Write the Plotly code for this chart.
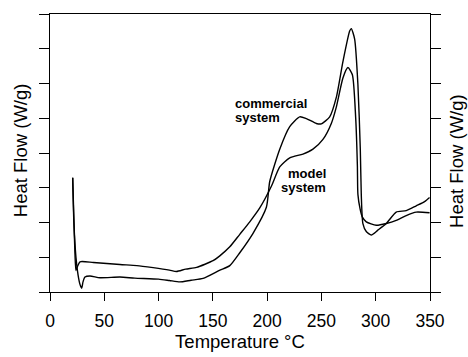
import plotly.graph_objects as go

# Commercial system (lower baseline, steep rise, shoulder ~230 °C, tall peak ~277 °C)
comm_T = [20.9, 22.0, 23.9, 25.8, 27.6, 29.2, 30.4, 32.2, 36.8, 46, 64.4, 78, 100, 110,
          119.6, 130, 141, 156, 165.6, 174.8, 187, 199.3, 202.4, 211.6, 220.8, 230,
          236.1, 245.3, 249.9, 257.6, 263.7, 269.8, 276, 277.5, 280.6, 283.6, 285.8,
          286.7, 288.2, 291.3, 295.9, 302, 309.7, 318.9, 328.1, 337.3, 345, 349.6]
comm_v = [3.29, 2.0, 1.0, 0.5, 0.22, 0.11, 0.29, 0.43, 0.46, 0.41, 0.43, 0.40, 0.37, 0.33,
          0.29, 0.34, 0.39, 0.62, 0.76, 1.13, 1.69, 2.44, 3.18, 4.11, 4.76, 5.04,
          4.99, 4.85, 4.84, 5.04, 5.60, 6.63, 7.51, 7.58, 7.28, 5.97, 4.11,
          2.81, 1.97, 1.74, 1.64, 1.78, 1.97, 2.30, 2.34, 2.48, 2.60, 2.72]

# Model system (upper baseline, gentler rise, lower peak ~274 °C)
model_T = [20.9, 22.0, 23.0, 23.9, 25.5, 27.6, 40, 64.4, 80, 95, 110, 116.5, 125, 135,
           150.2, 156.4, 165.6, 174.8, 184, 193.2, 204, 211.6, 220.8, 233, 242.2, 251.4,
           259.1, 263.7, 269.8, 274.4, 278.5, 281.5, 283.1, 283.6, 285.6, 287.6, 291.3,
           300.5, 309.7, 318.9, 328.1, 337.3, 349.6]
model_v = [3.29, 2.1, 1.1, 0.62, 0.75, 0.87, 0.85, 0.79, 0.76, 0.70, 0.63, 0.59, 0.66, 0.71,
           0.90, 1.04, 1.30, 1.66, 2.02, 2.42, 3.05, 3.60, 3.86, 3.97, 4.11, 4.39,
           4.85, 5.32, 6.16, 6.46, 6.25, 5.04, 3.65, 2.81, 2.39, 2.16, 2.02,
           1.92, 1.97, 2.06, 2.20, 2.30, 2.28]

x_ticks = [0, 50, 100, 150, 200, 250, 300, 350]
y_ticks = [0, 1, 2, 3, 4, 5, 6, 7, 8]

FONT = "Liberation Sans, Arial, Helvetica, sans-serif"

fig = go.Figure()
fig.add_trace(go.Scatter(x=comm_T, y=comm_v, mode="lines", name="commercial system",
                         line=dict(color="black", width=1.4, shape="spline", smoothing=0.6)))
fig.add_trace(go.Scatter(x=model_T, y=model_v, mode="lines", name="model system",
                         line=dict(color="black", width=1.4, shape="spline", smoothing=0.6)))

fig.update_layout(
    width=468, height=357,
    margin=dict(l=50, r=37.5, t=14, b=56.5),
    paper_bgcolor="white", plot_bgcolor="white",
    showlegend=False,
    font=dict(family=FONT, color="black"),
    xaxis=dict(range=[0, 350], tickvals=x_ticks, ticks="outside", ticklen=8,
               tickwidth=1.2, tickcolor="black", showline=True, linecolor="black",
               linewidth=1.3, mirror=True, showgrid=False, zeroline=False,
               ticklabelstandoff=5,
               tickfont=dict(size=17.5, family=FONT, color="black"),
               title=dict(text="Temperature °C", font=dict(size=18.5, family=FONT),
                          standoff=1)),
    yaxis=dict(range=[0, 8], tickvals=y_ticks, ticks="outside", ticklen=10,
               tickwidth=1.2, tickcolor="black", showline=True, linecolor="black",
               linewidth=1.3, mirror="ticks", showgrid=False, zeroline=False,
               showticklabels=False),
)

ann = [
    dict(text="<b>commercial</b>", x=168.3, y=5.43, xanchor="left", yanchor="middle"),
    dict(text="<b>system</b>", x=168.3, y=5.01, xanchor="left", yanchor="middle"),
    dict(text="<b>model</b>", x=255.7, y=3.42, xanchor="right", yanchor="middle"),
    dict(text="<b>system</b>", x=255.7, y=3.0, xanchor="right", yanchor="middle"),
]
for a in ann:
    fig.add_annotation(xref="x", yref="y", showarrow=False,
                       font=dict(size=13, family=FONT, color="black"), **a)

# Y axis titles (left and right)
fig.add_annotation(xref="paper", yref="paper", x=-0.079, y=0.51, xanchor="center",
                   yanchor="middle", textangle=-90, showarrow=False,
                   text="Heat Flow (W/g)", font=dict(size=18.5, family=FONT, color="black"))
fig.add_annotation(xref="paper", yref="paper", x=1.07, y=0.47, xanchor="center",
                   yanchor="middle", textangle=-90, showarrow=False,
                   text="Heat Flow (W/g)", font=dict(size=18.5, family=FONT, color="black"))

fig.write_html("out.html")
